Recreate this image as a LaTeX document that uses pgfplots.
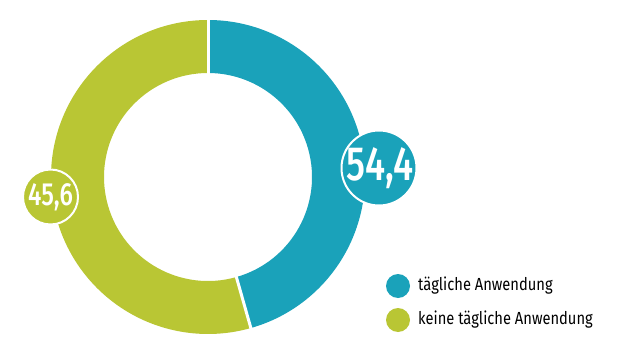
\documentclass[border=0pt]{standalone}
\usepackage{pgfplots}
\pgfplotsset{compat=1.18}
\usepackage{pgfplotstable}
\usepackage{fontspec}
\setmainfont{Fira Sans}[FakeStretch=0.84]
\newfontfamily\numfont{Fira Sans Medium}[FakeStretch=0.76]
\definecolor{cteal}{RGB}{26,162,186}
\definecolor{cgreen}{RGB}{185,198,52}
\pgfplotstableread{
label value
taeglich 54.4
keine 45.6
}\shares
\begin{document}
\begin{tikzpicture}
\pgfplotstablegetelem{0}{value}\of\shares \let\va\pgfplotsretval
\pgfplotstablegetelem{1}{value}\of\shares \let\vb\pgfplotsretval
% the reference draws the teal arc with the size of the smaller share
\pgfmathsetmacro{\aend}{90-3.6*\vb}
\begin{axis}[width=627pt,height=360pt,scale only axis,
  xmin=0,xmax=627,ymin=0,ymax=360,hide axis,clip=false]
% ring
\fill[cteal] ([shift={(90:157pt)}]axis cs:208,183) arc[start angle=90,end angle=\aend,radius=157pt]
  -- ([shift={(\aend:104pt)}]axis cs:208,183) arc[start angle=\aend,end angle=90,radius=104pt] -- cycle;
\fill[cgreen] ([shift={(90:157pt)}]axis cs:208,183) arc[start angle=90,end angle=\aend+360,radius=157pt]
  -- ([shift={(\aend:104pt)}]axis cs:208,183) arc[start angle=\aend+360,end angle=90,radius=104pt] -- cycle;
\draw[white,line width=3pt] ([shift={(90:100pt)}]axis cs:208,183) -- ([shift={(90:160pt)}]axis cs:208,183);
\draw[white,line width=3pt] ([shift={(\aend:100pt)}]axis cs:208,183) -- ([shift={(\aend:160pt)}]axis cs:208,183);
% value labels
\fill[cteal,draw=white,line width=2pt] (axis cs:379,192) circle[radius=37.5pt];
\node[text=white,font=\numfont\fontsize{48}{48}\selectfont,inner sep=0pt] at (axis cs:380,192) {54,4};
\fill[cgreen,draw=white,line width=2pt] (axis cs:50.5,163) circle[radius=27.5pt];
\node[text=white,font=\numfont\fontsize{32}{32}\selectfont,inner sep=0pt] at (axis cs:50.5,163) {45,6};
% legend
\fill[cteal] (axis cs:398,74) circle[radius=12pt];
\node[anchor=west,font=\fontsize{17.5}{17.5}\selectfont,inner sep=0pt] at (axis cs:418,74) {tägliche Anwendung};
\fill[cgreen] (axis cs:398,40) circle[radius=12pt];
\node[anchor=west,font=\fontsize{17.5}{17.5}\selectfont,inner sep=0pt] at (axis cs:418,40) {keine tägliche Anwendung};
\end{axis}
\useasboundingbox (0,0) rectangle (627pt,360pt);
\end{tikzpicture}
\end{document}
